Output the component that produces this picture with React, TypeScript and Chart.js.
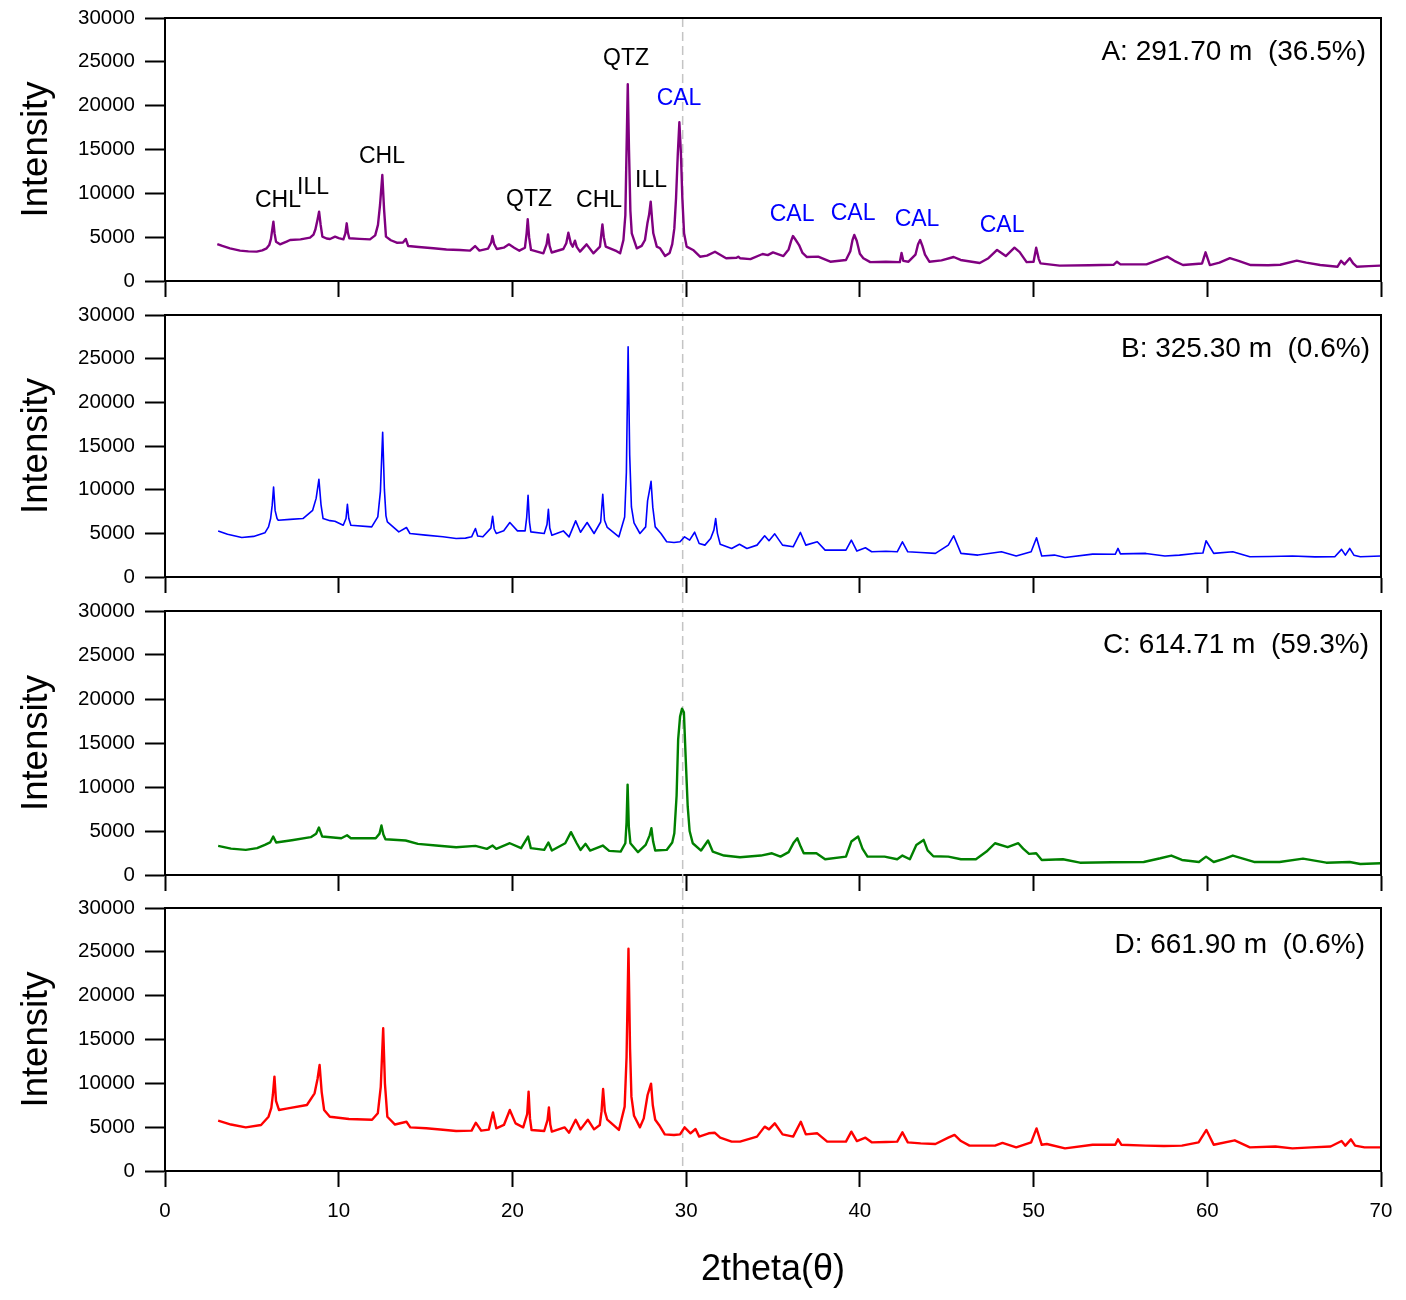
import React, { useEffect, useRef } from "react";
import { Chart, registerables } from "chart.js";

Chart.register(...registerables);

// ---- Diffraction patterns: [2θ (deg), intensity (counts)] ----
const patternA: [number, number][] = [[3.01,4220],[3.3,4000],[3.74,3730],[4.32,3460],[4.8,3380],[5.28,3350],[5.6,3500],[5.85,3730],[6.0,4100],[6.1,4800],[6.17,5800],[6.24,6770],[6.31,5400],[6.39,4490],[6.62,4180],[7.0,4500],[7.2,4680],[7.8,4750],[8.35,4940],[8.55,5300],[8.66,5900],[8.77,6900],[8.87,7900],[8.96,6400],[9.06,5060],[9.3,4850],[9.5,4790],[9.79,5060],[10.0,4900],[10.27,4750],[10.38,5400],[10.46,6580],[10.53,5500],[10.61,4870],[11.2,4800],[11.8,4750],[12.1,5200],[12.26,6400],[12.38,8700],[12.51,12090],[12.61,8200],[12.72,5060],[13.0,4650],[13.34,4370],[13.7,4400],[13.86,4790],[14.0,3990],[14.6,3880],[15.45,3730],[16.2,3600],[16.98,3540],[17.56,3460],[17.85,3990],[18.1,3460],[18.6,3700],[18.78,4400],[18.85,5130],[18.95,4200],[19.1,3650],[19.5,3800],[19.8,4180],[20.1,3800],[20.4,3460],[20.72,3800],[20.82,5500],[20.88,7040],[20.96,5000],[21.07,3540],[21.78,3160],[21.97,4200],[22.05,5320],[22.14,4000],[22.26,3250],[22.93,3650],[23.1,4300],[23.22,5510],[23.36,4300],[23.47,3920],[23.6,4600],[23.7,3900],[23.89,3350],[24.27,4180],[24.66,3160],[25.04,3920],[25.11,5200],[25.18,6460],[25.26,5000],[25.37,3920],[26.0,3400],[26.2,3160],[26.39,4680],[26.5,7500],[26.57,15000],[26.64,22440],[26.71,15000],[26.79,8000],[26.87,5440],[27.16,3730],[27.44,4000],[27.63,4680],[27.77,6580],[27.87,7600],[27.96,9050],[28.04,7000],[28.11,5440],[28.31,3920],[28.5,3730],[28.79,2850],[29.05,3200],[29.2,4200],[29.32,6000],[29.42,9500],[29.52,14500],[29.61,18100],[29.7,14500],[29.78,9500],[29.88,5440],[30.03,3920],[30.4,3540],[30.8,2770],[31.2,2900],[31.66,3340],[32.3,2600],[32.9,2650],[33.0,2780],[33.1,2600],[33.7,2500],[34.4,3080],[34.7,2950],[35.0,3270],[35.6,2850],[35.9,3600],[36.05,4600],[36.15,5130],[36.3,4700],[36.5,4100],[36.7,3200],[36.94,2740],[37.6,2780],[38.3,2200],[39.2,2400],[39.45,3400],[39.58,4700],[39.68,5250],[39.82,4600],[40.0,3100],[40.2,2600],[40.6,2150],[41.5,2200],[42.3,2150],[42.4,3190],[42.5,2300],[42.8,2200],[43.2,3000],[43.35,4200],[43.47,4680],[43.6,4000],[43.75,3000],[44.0,2200],[44.7,2350],[45.4,2740],[45.8,2400],[46.9,2050],[47.4,2600],[47.9,3540],[48.4,2850],[48.9,3800],[49.2,3300],[49.6,2150],[50.0,2200],[50.15,3800],[50.3,2500],[50.4,2010],[51.5,1750],[53.2,1800],[54.6,1850],[54.8,2200],[55.0,1900],[56.5,1900],[57.2,2400],[57.7,2780],[58.1,2300],[58.6,1820],[59.7,2000],[59.9,3270],[60.15,1820],[60.7,2100],[61.3,2600],[61.8,2300],[62.5,1820],[63.5,1800],[64.2,1850],[65.15,2320],[65.7,2100],[66.5,1820],[67.5,1630],[67.7,2300],[67.9,1900],[68.2,2600],[68.4,2000],[68.6,1630],[69.3,1700],[69.95,1750]];

const patternB: [number, number][] = [[3.06,5280],[3.6,4900],[4.42,4520],[5.1,4650],[5.75,5060],[5.96,5740],[6.08,6700],[6.17,8200],[6.25,10300],[6.34,7600],[6.45,6700],[6.52,6500],[7.2,6600],[7.94,6690],[8.5,7640],[8.7,9000],[8.86,11180],[8.98,8300],[9.1,6690],[9.5,6450],[9.78,6390],[10.26,5930],[10.42,6700],[10.5,8330],[10.58,6700],[10.7,5930],[11.9,5740],[12.25,6880],[12.4,9800],[12.53,16580],[12.63,10000],[12.72,7000],[12.8,6310],[13.46,5170],[13.9,5670],[14.1,4980],[15.0,4790],[16.0,4600],[16.76,4410],[17.3,4450],[17.65,4600],[17.87,5550],[18.0,4700],[18.3,4600],[18.76,5600],[18.86,6960],[18.95,5500],[19.07,4980],[19.5,5300],[19.85,6240],[20.29,5280],[20.73,5280],[20.82,6800],[20.9,9350],[20.98,6300],[21.06,5170],[21.83,4980],[21.99,6000],[22.07,7760],[22.15,5600],[22.27,4790],[22.93,5280],[23.26,4600],[23.64,6430],[23.92,5130],[24.3,6240],[24.7,4980],[25.08,6300],[25.2,9470],[25.3,6500],[25.46,5670],[26.13,4600],[26.46,6880],[26.56,12000],[26.66,26350],[26.75,14000],[26.85,8020],[27.0,6200],[27.34,4980],[27.67,5740],[27.78,8710],[27.88,9800],[27.98,10950],[28.08,8000],[28.22,5740],[28.55,4980],[28.88,4030],[29.3,3950],[29.65,4030],[29.91,4600],[30.2,4220],[30.49,5130],[30.75,3840],[31.08,3650],[31.41,4410],[31.6,5400],[31.7,6690],[31.8,5000],[31.96,3750],[32.62,3270],[33.07,3750],[33.5,3270],[34.08,3650],[34.52,4720],[34.77,4150],[35.1,4940],[35.55,3650],[36.16,3460],[36.58,5100],[36.89,3650],[37.55,4030],[38.0,3080],[39.2,3080],[39.51,4220],[39.83,2970],[40.32,3350],[40.68,2890],[41.5,2950],[42.15,2890],[42.45,4030],[42.76,2890],[43.5,2800],[44.35,2700],[45.09,3650],[45.4,4720],[45.82,2700],[46.8,2510],[48.15,2890],[49.0,2400],[49.86,2890],[50.17,4490],[50.47,2400],[51.2,2510],[51.81,2240],[53.4,2620],[54.7,2600],[54.86,3270],[55.0,2650],[56.46,2700],[57.56,2400],[58.4,2500],[59.27,2700],[59.75,2750],[59.93,4150],[60.37,2700],[61.47,2890],[62.45,2320],[63.6,2350],[64.9,2400],[66.2,2300],[67.34,2320],[67.73,3160],[67.95,2500],[68.2,3270],[68.44,2500],[68.81,2320],[69.99,2400]];

const patternC: [number, number][] = [[3.06,3310],[3.8,3000],[4.65,2850],[5.3,3050],[5.75,3420],[6.05,3700],[6.23,4370],[6.4,3690],[7.3,3950],[8.39,4300],[8.7,4700],[8.86,5400],[9.05,4370],[10.15,4180],[10.48,4520],[10.7,4180],[12.13,4180],[12.35,4700],[12.46,5630],[12.57,4600],[12.69,4070],[13.85,3920],[14.56,3540],[15.6,3350],[16.76,3160],[17.87,3310],[18.53,2970],[18.86,3350],[19.07,2970],[19.85,3610],[20.5,3050],[20.9,4370],[21.06,3050],[21.83,2850],[22.07,3690],[22.27,2780],[23.04,3610],[23.37,4870],[23.7,3610],[23.92,2850],[24.21,3540],[24.47,2780],[25.2,3350],[25.57,2740],[26.23,2660],[26.5,3610],[26.57,6000],[26.63,10270],[26.7,5500],[26.79,3610],[27.23,2590],[27.67,3420],[27.9,4500],[28.0,5320],[28.1,3800],[28.22,2780],[28.88,2850],[29.2,3700],[29.32,4750],[29.45,9000],[29.54,15400],[29.65,18000],[29.76,18900],[29.87,18500],[29.98,13000],[30.09,7790],[30.2,5000],[30.38,3610],[30.86,2780],[31.26,3920],[31.53,2660],[32.18,2210],[33.1,2010],[34.3,2210],[34.94,2470],[35.43,2090],[35.9,2600],[36.2,3700],[36.4,4180],[36.6,3200],[36.77,2470],[37.5,2470],[38.0,1790],[39.2,2090],[39.51,3800],[39.9,4370],[40.15,3000],[40.44,2090],[41.42,2090],[42.15,1790],[42.45,2210],[42.88,1790],[43.25,3420],[43.67,3990],[43.9,2800],[44.23,2130],[45.09,2090],[45.82,1790],[46.68,1790],[47.29,2660],[47.78,3610],[48.51,3160],[49.12,3610],[49.4,3000],[49.74,2400],[50.15,2470],[50.47,1710],[51.69,1790],[52.67,1400],[54.5,1450],[56.34,1480],[57.3,1900],[57.93,2210],[58.54,1710],[59.52,1480],[59.93,2090],[60.37,1480],[61.0,1850],[61.47,2210],[62.69,1480],[64.16,1480],[65.51,1860],[66.85,1400],[68.2,1480],[68.81,1250],[69.99,1330]];

const patternD: [number, number][] = [[3.06,5740],[3.8,5300],[4.65,4980],[5.53,5250],[5.96,6190],[6.12,7200],[6.21,8700],[6.3,10760],[6.39,8000],[6.56,6960],[7.07,7150],[8.17,7530],[8.61,8860],[8.78,10500],[8.9,12090],[9.02,9000],[9.16,6960],[9.49,6190],[10.59,5930],[11.92,5850],[12.25,6580],[12.42,9600],[12.56,16280],[12.66,10000],[12.8,6190],[13.24,5300],[13.9,5620],[14.12,4980],[15.04,4870],[16.0,4700],[16.76,4560],[17.65,4600],[17.89,5510],[18.2,4600],[18.64,4720],[18.88,6690],[19.07,4870],[19.51,5250],[19.85,6960],[20.18,5430],[20.62,4980],[20.85,6500],[20.93,9050],[21.01,6000],[21.1,4680],[21.83,4560],[22.02,5800],[22.1,7260],[22.18,5300],[22.27,4490],[23.0,4980],[23.26,4370],[23.64,5850],[23.92,4750],[24.34,5850],[24.7,4750],[25.03,5250],[25.13,6800],[25.22,9350],[25.32,6800],[25.46,5850],[26.13,4680],[26.46,7340],[26.57,13000],[26.68,25360],[26.77,14000],[26.85,8480],[27.0,6300],[27.34,4980],[27.56,6000],[27.78,8670],[27.88,9300],[27.98,9960],[28.08,7500],[28.22,5850],[28.44,5250],[28.77,4180],[29.3,4100],[29.65,4180],[29.91,4980],[30.25,4300],[30.54,4790],[30.75,3920],[31.3,4300],[31.64,4370],[31.96,3800],[32.62,3350],[33.1,3350],[34.08,3920],[34.52,5060],[34.77,4750],[35.1,5440],[35.55,4180],[36.16,3920],[36.6,5620],[36.89,4180],[37.55,4300],[38.12,3350],[39.2,3350],[39.51,4490],[39.83,3420],[40.32,3800],[40.68,3270],[41.5,3300],[42.15,3350],[42.45,4410],[42.76,3270],[43.5,3150],[44.35,3080],[45.09,3800],[45.45,4110],[45.82,3420],[46.31,2890],[47.78,2890],[48.21,3200],[49.0,2700],[49.86,3270],[50.17,4860],[50.47,2990],[50.76,3080],[51.81,2580],[53.4,3000],[54.7,3000],[54.86,3610],[55.05,3000],[56.46,2890],[57.5,2850],[58.54,2890],[59.5,3270],[59.95,4680],[60.37,2990],[61.58,3500],[62.45,2700],[63.92,2800],[64.9,2580],[66.0,2700],[67.1,2800],[67.73,3420],[67.95,2890],[68.27,3610],[68.51,2890],[69.05,2700],[69.99,2700]];

// ---- Mineral peak labels for sample A ----
const peakNames = ["CHL", "ILL", "CHL", "QTZ", "CHL", "QTZ", "ILL", "CAL", "CAL", "CAL", "CAL", "CAL"];
const peakTheta = [6.5, 8.52, 12.49, 20.96, 24.99, 26.54, 27.98, 29.59, 36.1, 39.61, 43.29, 48.19];
const peakLabelIntensity = [9130, 10610, 14140, 9240, 9130, 25320, 11410, 20760, 7530, 7640, 6960, 6270];

// ---- Sample captions ----
const sampleCaptions = [
  "A: 291.70 m  (36.5%)",
  "B: 325.30 m  (0.6%)",
  "C: 614.71 m  (59.3%)",
  "D: 661.90 m  (0.6%)",
];

// Calcite main reflection marker
const referenceTheta = 29.8;

const xTicks = [0, 10, 20, 30, 40, 50, 60, 70];
const yTicks = [0, 5000, 10000, 15000, 20000, 25000, 30000];

const FONT = "Arial, 'Liberation Sans', Helvetica, sans-serif";
const mineralColor = (name: string) => (name === "CAL" ? "#0000ff" : "#000000");

type PanelSpec = {
  pattern: [number, number][];
  color: string;
  lineWidth: number;
  caption: string;
  captionDx: number;
  captionDy: number;
  top: number;
  height: number;
  padTop: number;
  axisHeight: number;
  first: boolean;
  last: boolean;
  peaks: boolean;
};

const panels: PanelSpec[] = [
  { pattern: patternA, color: "#800080", lineWidth: 2.4, caption: sampleCaptions[0], captionDx: 15, captionDy: 34, top: 0, height: 298, padTop: 18, axisHeight: 17, first: true, last: false, peaks: true },
  { pattern: patternB, color: "#0000ff", lineWidth: 1.6, caption: sampleCaptions[1], captionDx: 11, captionDy: 34, top: 298, height: 296, padTop: 17, axisHeight: 17, first: false, last: false, peaks: false },
  { pattern: patternC, color: "#008000", lineWidth: 2.4, caption: sampleCaptions[2], captionDx: 12, captionDy: 34, top: 594, height: 297, padTop: 17, axisHeight: 16, first: false, last: false, peaks: false },
  { pattern: patternD, color: "#ff0000", lineWidth: 2.4, caption: sampleCaptions[3], captionDx: 16, captionDy: 37, top: 891, height: 409, padTop: 17, axisHeight: 129, first: false, last: true, peaks: false },
];

// Frame, reference marker, caption and peak labels
const decorations = {
  id: "xrdDecorations",
  beforeDatasetsDraw(chart: any, _args: any, opts: any) {
    const { ctx, chartArea, scales } = chart;
    const x = scales.x.getPixelForValue(referenceTheta);
    const y0 = opts.first ? chartArea.top : 0;
    const y1 = opts.last ? chartArea.bottom : chart.height;
    ctx.save();
    ctx.strokeStyle = "#c4c4c4";
    ctx.lineWidth = 1.5;
    ctx.setLineDash([9, 5]);
    ctx.beginPath();
    ctx.moveTo(x, y0);
    ctx.lineTo(x, y1);
    ctx.stroke();
    ctx.restore();
  },
  afterDraw(chart: any, _args: any, opts: any) {
    const { ctx, chartArea, scales } = chart;
    ctx.save();
    ctx.strokeStyle = "#000";
    ctx.lineWidth = 2;
    ctx.beginPath();
    ctx.moveTo(chartArea.left, chartArea.top);
    ctx.lineTo(chartArea.right, chartArea.top);
    ctx.lineTo(chartArea.right, chartArea.bottom);
    ctx.stroke();

    ctx.fillStyle = "#000";
    ctx.font = `28px ${FONT}`;
    ctx.textAlign = "right";
    ctx.textBaseline = "middle";
    ctx.fillText(opts.caption, chartArea.right - opts.captionDx, chartArea.top + opts.captionDy);

    if (opts.peaks) {
      ctx.font = `23px ${FONT}`;
      ctx.textAlign = "center";
      peakNames.forEach((name, i) => {
        ctx.fillStyle = mineralColor(name);
        ctx.fillText(
          name,
          scales.x.getPixelForValue(peakTheta[i]),
          scales.y.getPixelForValue(peakLabelIntensity[i])
        );
      });
    }
    ctx.restore();
  },
};

function XrdPanel({ spec }: { spec: PanelSpec }) {
  const ref = useRef<HTMLCanvasElement | null>(null);

  useEffect(() => {
    if (!ref.current) return;
    const points = spec.pattern.map(([t, v]) => ({ x: t, y: v }));
    const chart = new Chart(ref.current, {
      type: "line",
      data: {
        datasets: [
          {
            data: points,
            borderColor: spec.color,
            borderWidth: spec.lineWidth,
            borderJoinStyle: "round",
            pointRadius: 0,
            tension: 0,
            fill: false,
          },
        ],
      },
      options: {
        responsive: false,
        animation: false,
        devicePixelRatio: 1,
        layout: { padding: { top: spec.padTop, right: 25, bottom: 0, left: 0 } },
        plugins: {
          legend: { display: false },
          tooltip: { enabled: false },
          xrdDecorations: {
            first: spec.first,
            last: spec.last,
            caption: spec.caption,
            captionDx: spec.captionDx,
            captionDy: spec.captionDy,
            peaks: spec.peaks,
          },
        } as any,
        scales: {
          x: {
            type: "linear",
            min: xTicks[0],
            max: xTicks[xTicks.length - 1],
            afterBuildTicks: (scale: any) => {
              scale.ticks = xTicks.map((v) => ({ value: v }));
            },
            afterFit: (scale: any) => {
              scale.height = spec.axisHeight;
              scale.paddingLeft = 0;
              scale.paddingRight = 0;
            },
            border: { display: true, color: "#000", width: 2 },
            grid: {
              display: true,
              drawOnChartArea: false,
              drawTicks: true,
              tickLength: 16,
              tickWidth: 2,
              tickColor: "#000",
            },
            ticks: {
              display: spec.last,
              color: "#000",
              padding: 12,
              maxRotation: 0,
              font: { size: 20.5, family: FONT },
              callback: (v: any) => String(v),
            },
            title: {
              display: spec.last,
              text: "2theta(θ)",
              color: "#000",
              font: { size: 36, family: FONT, lineHeight: 1 },
              padding: { top: 0, bottom: 12 },
            },
          },
          y: {
            type: "linear",
            min: yTicks[0],
            max: yTicks[yTicks.length - 1],
            afterBuildTicks: (scale: any) => {
              scale.ticks = yTicks.map((v) => ({ value: v }));
            },
            afterFit: (scale: any) => {
              scale.width = 165;
              scale.paddingTop = 0;
              scale.paddingBottom = 0;
            },
            border: { display: true, color: "#000", width: 2 },
            grid: {
              display: true,
              drawOnChartArea: false,
              drawTicks: true,
              tickLength: 20,
              tickWidth: 2,
              tickColor: "#000",
            },
            ticks: {
              color: "#000",
              padding: 10,
              font: { size: 20.5, family: FONT },
              callback: (v: any) => String(v),
            },
            title: {
              display: true,
              text: "Intensity",
              color: "#000",
              font: { size: 36.5, family: FONT, lineHeight: 1 },
              padding: { top: 19, bottom: 0 },
            },
          },
        },
      },
      plugins: [decorations as any],
    });
    return () => chart.destroy();
  }, [spec]);

  return (
    <canvas
      ref={ref}
      width={1406}
      height={spec.height}
      style={{ position: "absolute", left: 0, top: spec.top, width: 1406, height: spec.height }}
    />
  );
}

export default function App() {
  return (
    <div
      style={{
        position: "absolute",
        left: 0,
        top: 0,
        width: 1406,
        height: 1300,
        background: "#ffffff",
        overflow: "hidden",
      }}
    >
      {panels.map((p, i) => (
        <XrdPanel key={i} spec={p} />
      ))}
    </div>
  );
}
